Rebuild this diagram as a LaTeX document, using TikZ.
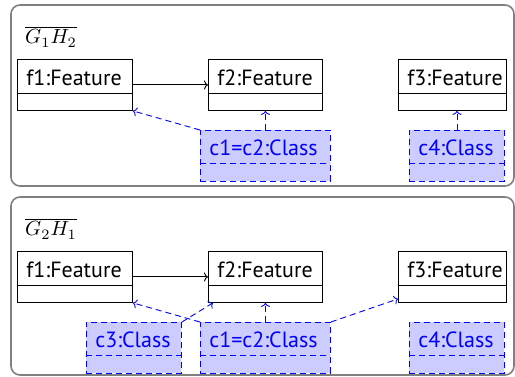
\documentclass[tikz,border=0pt]{standalone}
\usepackage{fontspec}
\setmainfont{PT Sans}
\usetikzlibrary{arrows.meta,calc}
\begin{document}
\begin{tikzpicture}[x=1pt,y=-1pt,
  bigfont/.style={font=\fontsize{22pt}{26pt}\selectfont},
  frame/.style={draw=gray, line width=1.6pt, rounded corners=9pt},
  umlbox/.style={draw=black, line width=0.9pt, fill=white, bigfont,
    inner xsep=9pt, inner ysep=0pt, text height=26pt, text depth=25pt, align=left,
    anchor=north west,
    path picture={\draw[black, line width=0.9pt]
      ([yshift=-34pt]path picture bounding box.north west) --
      ([yshift=-34pt]path picture bounding box.north east);}},
  clsbox/.style={draw=blue, line width=0.9pt, dash pattern=on 6pt off 4pt, fill=blue!20,
    text=blue, bigfont,
    inner xsep=9pt, inner ysep=0pt, text height=25pt, text depth=26pt, align=left,
    anchor=north west,
    path picture={\draw[blue, line width=0.9pt, dash pattern=on 6pt off 4pt]
      ([yshift=-33pt]path picture bounding box.north west) --
      ([yshift=-33pt]path picture bounding box.north east);}},
  assoc/.style={draw=black, line width=0.9pt, -{To[length=4pt,width=9pt]}},
  mapto/.style={draw=blue, line width=0.9pt, dash pattern=on 6pt off 4pt, -{To[length=4pt,width=9pt]}},
  title/.style={font=\normalsize, anchor=base west, inner sep=0pt}
  ]
\useasboundingbox (0,0) rectangle (515,377);
% ---- upper panel
\draw[frame] (11,5) rectangle (514,186);
\node[title] (t1) at (25,44) {\scalebox{2.05}{$\overline{G_1H_2}$}};
\node[umlbox, text width=97pt] (a1) at (17,59) {f1:Feature};
\node[umlbox, text width=96pt] (a2) at (208,59) {f2:Feature};
\node[umlbox, text width=90pt] (a3) at (398,59) {f3:Feature};
\node[clsbox, text width=112pt] (ac12) at (200,130) {c1=c2:Class};
\node[clsbox, text width=77pt] (ac4) at (409,130) {c4:Class};
\draw[assoc] (a1) -- (a2);
\draw[mapto] (ac12.north west) -- (a1.south east);
\draw[mapto] (ac12.north) -- (a2.south);
\draw[mapto] (ac4.north) -- (ac4.north |- a3.south);
% ---- lower panel
\draw[frame] (11,197) rectangle (514,375);
\node[title] (t2) at (25,236) {\scalebox{2.05}{$\overline{G_2H_1}$}};
\node[umlbox, text width=97pt] (b1) at (17,251) {f1:Feature};
\node[umlbox, text width=96pt] (b2) at (208,251) {f2:Feature};
\node[umlbox, text width=90pt] (b3) at (398,251) {f3:Feature};
\node[clsbox, text width=77pt] (bc3) at (86,322) {c3:Class};
\node[clsbox, text width=112pt] (bc12) at (200,322) {c1=c2:Class};
\node[clsbox, text width=77pt] (bc4) at (409,322) {c4:Class};
\draw[assoc] (b1) -- (b2);
\draw[mapto] (bc12.north west) -- (b1.south east);
\draw[mapto] (bc12.north) -- (b2.south);
\draw[mapto] (bc12.north east) -- ([yshift=4pt]b3.south west);
\draw[mapto] (bc3.north east) -- ([xshift=5pt]b2.south west);
\end{tikzpicture}
\end{document}
